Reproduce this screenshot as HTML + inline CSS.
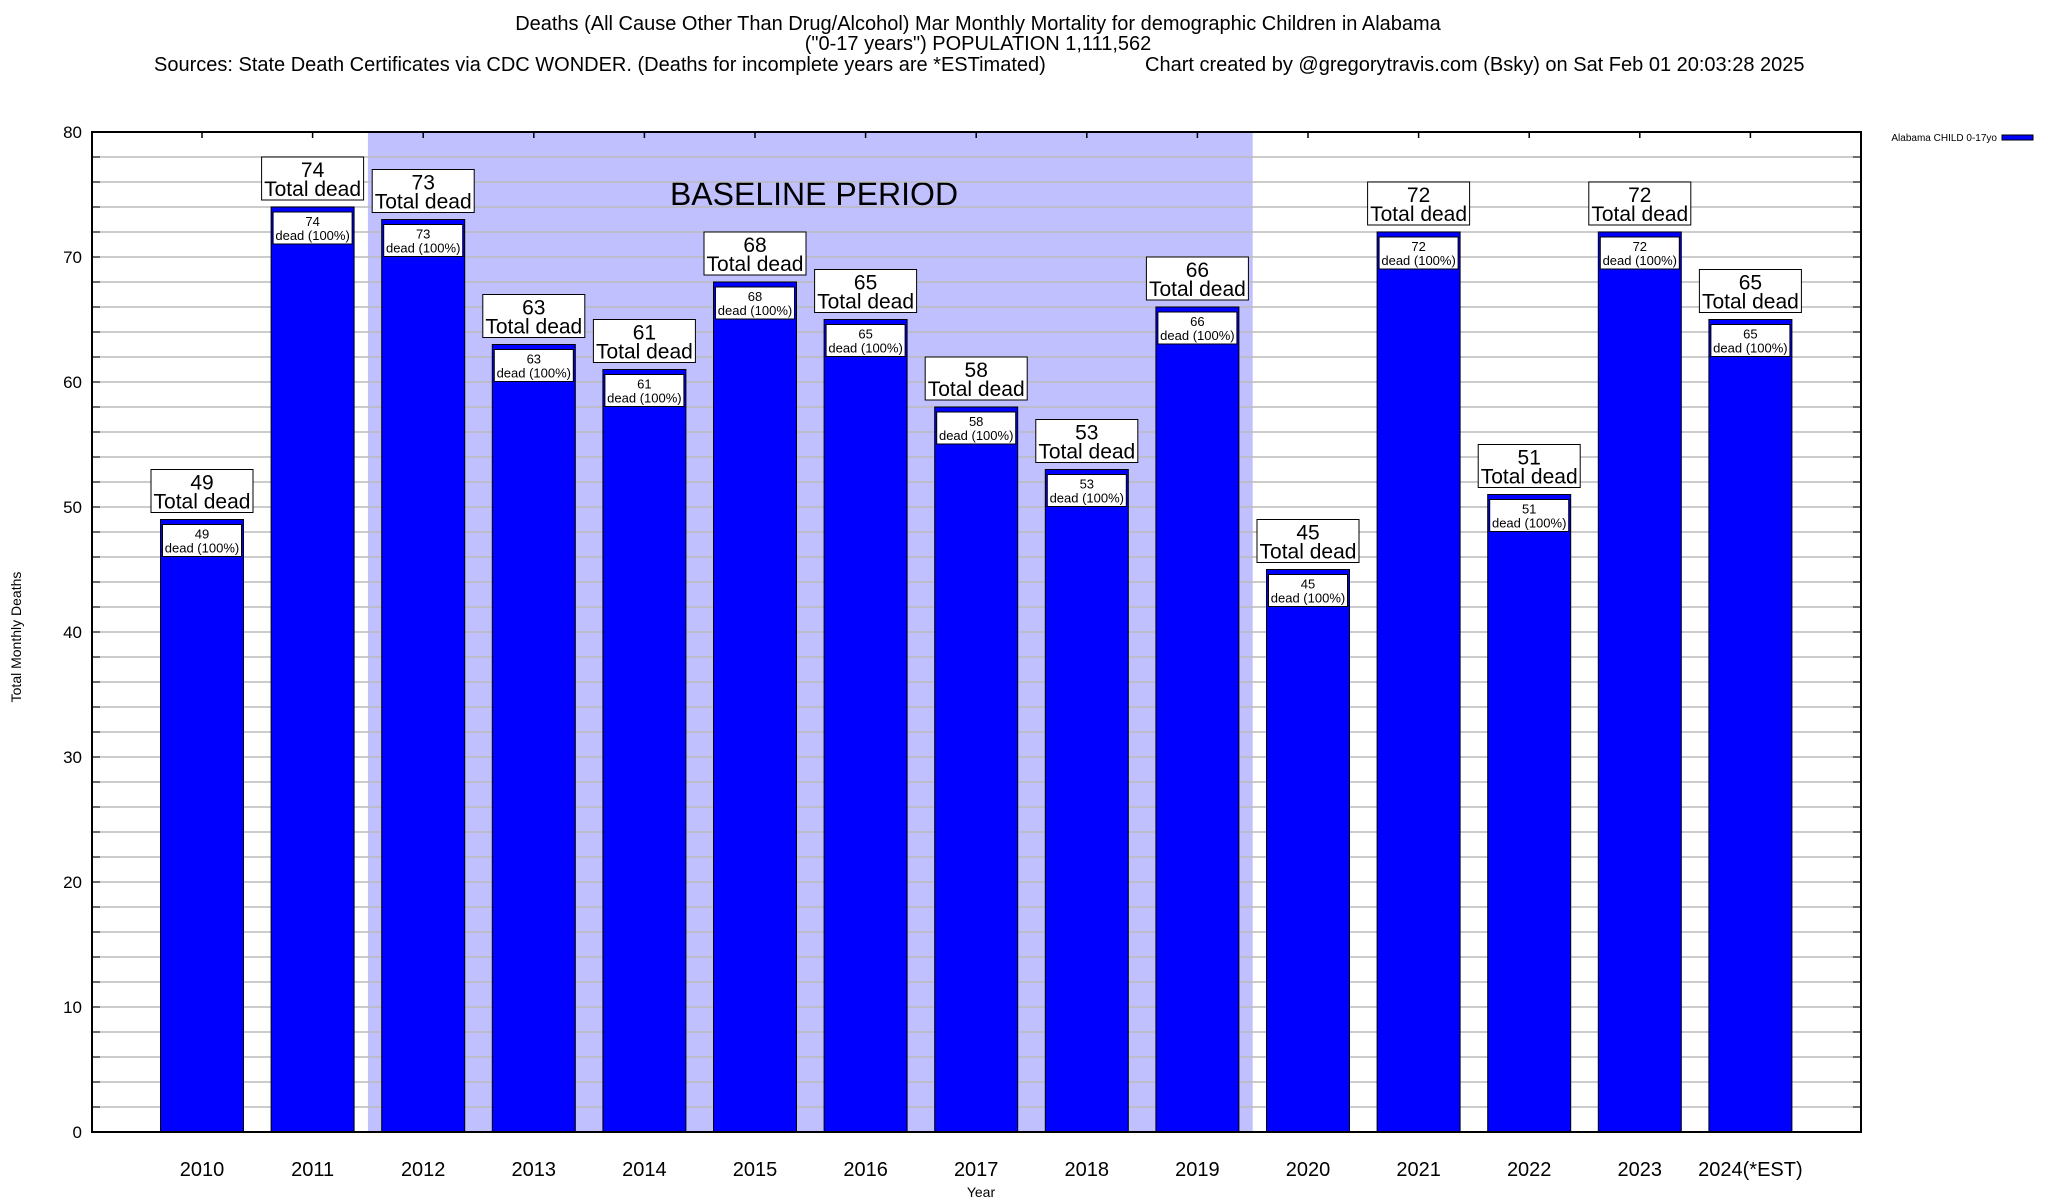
<!DOCTYPE html>
<html><head><meta charset="utf-8"><style>
body{margin:0;background:#fff;}
svg{display:block;font-family:"Liberation Sans",sans-serif;}
</style></head><body>
<svg id="chart" width="2048" height="1200" viewBox="0 0 2048 1200">
<text x="978" y="30" font-size="20" text-anchor="middle">Deaths (All Cause Other Than Drug/Alcohol) Mar Monthly Mortality for demographic Children in Alabama</text>
<text x="978" y="50" font-size="20" text-anchor="middle">("0-17 years") POPULATION 1,111,562</text>
<text x="154" y="71" font-size="20">Sources: State Death Certificates via CDC WONDER. (Deaths for incomplete years are *ESTimated)</text>
<text x="1145" y="71" font-size="20">Chart created by @gregorytravis.com (Bsky) on Sat Feb 01 20:03:28 2025</text>
<g id="plot"></g>
<text x="981" y="1197" font-size="14" text-anchor="middle">Year</text>
<text transform="translate(21,637) rotate(-90)" font-size="14" text-anchor="middle">Total Monthly Deaths</text>
<text x="1997" y="141" font-size="10" text-anchor="end">Alabama CHILD 0-17yo</text>
<rect x="2002" y="135" width="31" height="5" fill="#0000ff" stroke="#000" stroke-width="1"/>
</svg>
<script>
const categories=["2010","2011","2012","2013","2014","2015","2016","2017","2018","2019","2020","2021","2022","2023","2024(*EST)"];
const values=[49,74,73,63,61,68,65,58,53,66,45,72,51,72,65];
const yTicks=[0,10,20,30,40,50,60,70,80];
const baselineRange=[1.5,9.5];
const NS="http://www.w3.org/2000/svg";
const L=92,R=1861,T=132,B=1132;
const X=i=>202+i*110.6;
const Y=v=>B-(v/80)*(B-T);
const g=document.getElementById('plot');
function mk(t,a,p){const e=document.createElementNS(NS,t);for(const k in a)e.setAttribute(k,a[k]);(p||g).appendChild(e);return e;}
const sh=mk('rect',{x:X(baselineRange[0]),y:T,width:X(baselineRange[1])-X(baselineRange[0]),height:B-T,fill:'#c0c0ff'});


const bt=mk('text',{x:814,y:205,'font-size':32,'text-anchor':'middle'});bt.textContent='BASELINE PERIOD';


for(let v=2;v<80;v+=2){
 const gl=mk('line',{x1:L,x2:R,y1:Y(v),y2:Y(v),stroke:'#bbb','stroke-width':1.5});
 
 
 mk('line',{x1:L,x2:L+8,y1:Y(v),y2:Y(v),stroke:'#000','stroke-width':1});
 mk('line',{x1:R-8,x2:R,y1:Y(v),y2:Y(v),stroke:'#000','stroke-width':1});
}
yTicks.forEach(v=>{
 const t=mk('text',{x:82,y:Y(v)+6,'font-size':17,'text-anchor':'end'});t.textContent=v;
 
 
});
categories.forEach((c,i)=>{
 mk('line',{x1:X(i),x2:X(i),y1:T,y2:T+6,stroke:'#000','stroke-width':1.5});
 const v=values[i],x=X(i),w=83,y=Y(v);
 const bar=mk('rect',{x:x-w/2,y:y,width:w,height:B-y,fill:'#0000ff',stroke:'#000','stroke-width':1});
 
 
 const ib=mk('rect',{x:x-w/2+2,y:y+5,width:w-4,height:32,fill:'#fff',stroke:'#000','stroke-width':1});
 
 
 const t1=mk('text',{x:x,y:y+19,'font-size':13,'text-anchor':'middle'});t1.textContent=v;
 const t2=mk('text',{x:x,y:y+33,'font-size':13,'text-anchor':'middle'});t2.textContent='dead (100%)';
 const ob=mk('rect',{x:x-51,y:y-50,width:102,height:43,fill:'#fff',stroke:'#000','stroke-width':1});
 
 
 const t3=mk('text',{x:x,y:y-30,'font-size':21,'text-anchor':'middle'});t3.textContent=v;
 const t4=mk('text',{x:x,y:y-11,'font-size':21,'text-anchor':'middle'});t4.textContent='Total dead';
 const xl=mk('text',{x:x,y:1176,'font-size':20,'text-anchor':'middle'});xl.textContent=c;
 
 
});
const fr=mk('rect',{x:L,y:T,width:R-L,height:B-T,fill:'none',stroke:'#000','stroke-width':2});


</script>
</body></html>
